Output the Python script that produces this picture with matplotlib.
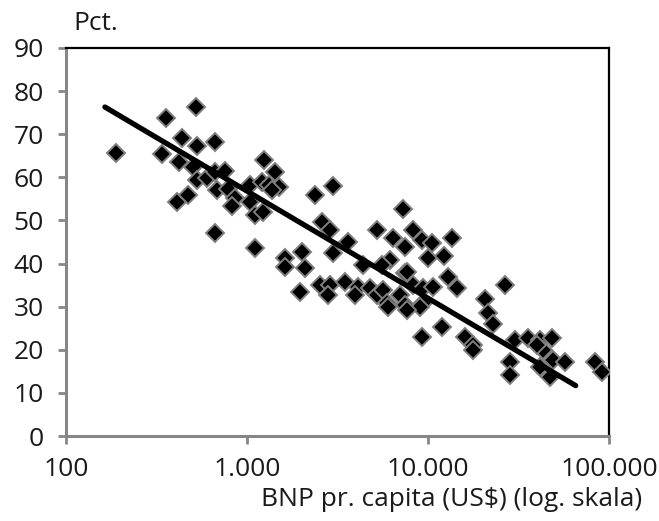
import matplotlib
matplotlib.use("Agg")
import matplotlib.pyplot as plt
import numpy as np

plt.rcParams['font.family'] = ['Open Sans', 'DejaVu Sans']

# GDP per capita (US$) and percentage
gdp = [190, 356, 521, 338, 435, 527, 665, 421, 505, 531, 598, 665, 756, 680, 782,
       859, 823, 412, 470, 665, 1040, 1040, 1107, 1231, 1107, 1246, 1429, 1205, 1327,
       1507, 1367, 2377, 2588, 2003, 1622,
       2999, 7311, 2876, 5210, 8300, 6430, 7460, 9230, 3631, 2999, 1622, 2090, 4395,
       6166, 7460, 5546, 1963, 2529, 2876, 2812, 3476, 4125, 3955, 4786, 5210, 5660,
       5910, 7000, 7460, 8300, 9420, 9420,
       10470, 13520, 10040, 12250, 7620, 12940, 10700, 14390, 26600, 6040, 9040, 7620,
       20650, 21500, 22950, 11890, 9230, 15990, 17780,
       17780, 30200, 35800, 41600, 48200, 43400, 39800, 49200, 57100, 28400, 28400,
       41600, 47200, 83800, 91200]
pct = [65.6, 73.7, 76.2, 65.4, 69.2, 67.3, 68.1, 63.6, 62.5, 59.4, 59.8, 61.3, 61.5, 57.1, 57.2,
       55.3, 53.4, 54.3, 55.9, 47.2, 58.2, 54.3, 51.3, 52.0, 43.5, 64.0, 61.3, 59.0, 58.2,
       57.7, 57.1, 55.9, 49.7, 42.6, 41.2,
       58.0, 52.6, 47.8, 47.8, 47.8, 45.9, 43.9, 45.5, 45.1, 42.4, 39.3, 38.9, 39.7,
       40.8, 37.7, 39.7, 33.5, 35.0, 35.0, 32.7, 35.8, 34.6, 32.7, 34.3, 32.7, 33.9,
       30.8, 32.7, 30.4, 35.0, 34.3, 30.8,
       44.7, 45.9, 41.2, 41.8, 38.1, 37.0, 34.6, 34.3, 35.0, 30.0, 30.0, 29.2,
       31.9, 28.5, 26.1, 25.4, 23.0, 23.0, 21.1,
       19.9, 22.3, 22.7, 22.3, 22.7, 19.9, 21.1, 17.6, 17.2, 17.2, 14.2,
       16.1, 13.8, 17.2, 14.9]

# Trend line end points
trend_x = [164, 65400]
trend_y = [76.3, 11.7]

xticks = [100, 1000, 10000, 100000]
xtick_labels = ['100', '1.000', '10.000', '100.000']
yticks = list(range(0, 91, 10))

fig = plt.figure(figsize=(6.59, 5.21), dpi=100)
ax = fig.add_axes([0.1002, 0.163, 0.8240, 0.745])

ax.plot(gdp, pct, linestyle='none', marker='D', markersize=9.5,
        markerfacecolor='black', markeredgecolor='#7f7f7f', markeredgewidth=1.4, zorder=3)
ax.plot(trend_x, trend_y, color='black', linewidth=3.8, solid_capstyle='round', zorder=4)

ax.set_xscale('log')
ax.set_xlim(100, 100000)
ax.set_ylim(0, 90)
ax.set_xticks(xticks)
ax.set_xticklabels(xtick_labels)
ax.xaxis.set_minor_locator(matplotlib.ticker.NullLocator())
ax.set_yticks(yticks)

for s in ['left', 'bottom']:
    ax.spines[s].set_color('#868686')
    ax.spines[s].set_linewidth(2.2)
for s in ['top', 'right']:
    ax.spines[s].set_color('black')
    ax.spines[s].set_linewidth(1.6)

ax.tick_params(axis='both', direction='out', length=6, width=2, color='#868686',
               labelsize=19, labelcolor='#1a1a1a')
ax.tick_params(axis='x', pad=9)
ax.tick_params(axis='y', pad=10)

fig.text(0.111, 0.93, 'Pct.', fontsize=19, color='#1a1a1a', ha='left', va='bottom')
fig.text(0.975, 0.018, 'BNP pr. capita (US$) (log. skala)', fontsize=19, color='#1a1a1a',
         ha='right', va='bottom')

fig.savefig('out.png', dpi=100)
